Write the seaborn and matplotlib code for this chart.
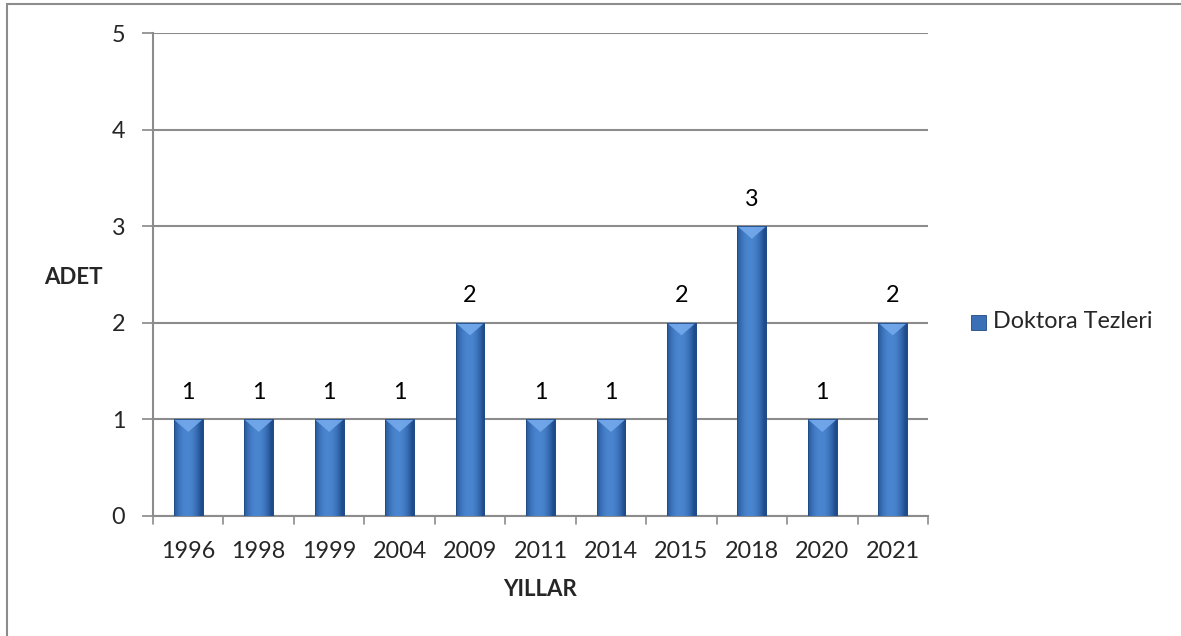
import matplotlib
matplotlib.use("Agg")
import matplotlib.pyplot as plt
import seaborn as sns
import numpy as np
import pandas as pd
from matplotlib.patches import Rectangle, Polygon
from matplotlib.colors import LinearSegmentedColormap

years = ["1996", "1998", "1999", "2004", "2009", "2011", "2014", "2015", "2018", "2020", "2021"]
counts = [1, 1, 1, 1, 2, 1, 1, 2, 3, 1, 2]
series_name = "Doktora Tezleri"
y_ticks = [0, 1, 2, 3, 4, 5]

sns.set_theme(style="white")
plt.rcParams['font.family'] = ['Lato', 'DejaVu Sans']

df = pd.DataFrame({"Yıl": years, "Adet": counts})

fig = plt.figure(figsize=(11.81, 6.36), dpi=100)
ax = fig.add_axes([153/1181, 1-516/636, (928-153)/1181, (516-33)/636])

base = "#3B6FB6"
sns.barplot(data=df, x="Yıl", y="Adet", color=base, width=0.41, ax=ax,
            saturation=1, edgecolor="#1F4A85", linewidth=0.6, zorder=3)

# gradient shading on bars
grad = np.linspace(0, 1, 64)
shade = 1 - 0.55 * (np.abs(grad - 0.45) * 2) ** 2
cmap = LinearSegmentedColormap.from_list("bar", ["#1E4B8C", "#4A86D0"])
img = np.tile(shade, (2, 1))
for p in ax.patches:
    x0, y0 = p.get_x(), p.get_y()
    w, h = p.get_width(), p.get_height()
    im = ax.imshow(img, extent=[x0, x0 + w, y0, y0 + h], aspect="auto",
                   cmap=cmap, vmin=0.45, vmax=1, zorder=4, interpolation="bicubic")
    im.set_clip_path(p)
    # top bevel (light chevron)
    bev = 0.13
    tri = Polygon([[x0, y0 + h], [x0 + w, y0 + h], [x0 + w / 2, y0 + h - bev]],
                  closed=True, facecolor="#74AAEC", edgecolor="none", alpha=0.9, zorder=5)
    ax.add_patch(tri)
    ax.add_patch(Rectangle((x0, y0), w, h, facecolor="none", edgecolor="#1F4A85",
                           linewidth=0.6, zorder=6))
    ax.text(x0 + w / 2, y0 + h + 0.17, f"{int(h)}", ha="center", va="bottom",
            fontsize=16.8, color="black", zorder=7)

ax.set_ylim(0, 5)
ax.set_xlim(-0.5, len(years) - 0.5)
ax.set_yticks(y_ticks)
ax.set_yticklabels([str(t) for t in y_ticks], fontsize=16.8)
ax.tick_params(axis="x", labelsize=16.8, length=0, pad=18)
ax.tick_params(axis="y", length=8, width=1.2, color="#888888", pad=12, direction="out", left=True)
ax.grid(axis="y", color="#8C8C8C", linewidth=1.5, zorder=0)
ax.set_axisbelow(True)
for s in ["top", "right"]:
    ax.spines[s].set_visible(False)
for s in ["left", "bottom"]:
    ax.spines[s].set_color("#8C8C8C")
    ax.spines[s].set_linewidth(1.5)

# x tick marks at category boundaries
for b in np.arange(-0.5, len(years), 1.0):
    ax.plot([b, b], [0, -0.08], color="#8C8C8C", lw=1.2, clip_on=False, zorder=2)

ax.set_xlabel("")
ax.set_ylabel("")
fig.text(540/1181, 1-590/636, "YILLAR", fontsize=16, fontweight="bold", ha="center", va="center")
fig.text(73/1181, 1-277/636, "ADET", fontsize=16, fontweight="bold", ha="center", va="center")

# legend
fig.patches.append(Rectangle((971/1181, 1-330/636), 15/1181, 15/636, transform=fig.transFigure,
                             facecolor=base, edgecolor="#1F4A85", lw=0.6))
fig.text(993/1181, 1-322/636, series_name, fontsize=16.8, ha="left", va="center")

# outer frame
fig.patches.append(Rectangle((6.5/1181, -0.02), 1.1, 1 - 3.5/636 + 0.02, transform=fig.transFigure,
                             facecolor="none", edgecolor="#8C8C8C", lw=1.5))

fig.savefig("out.png", dpi=100)
